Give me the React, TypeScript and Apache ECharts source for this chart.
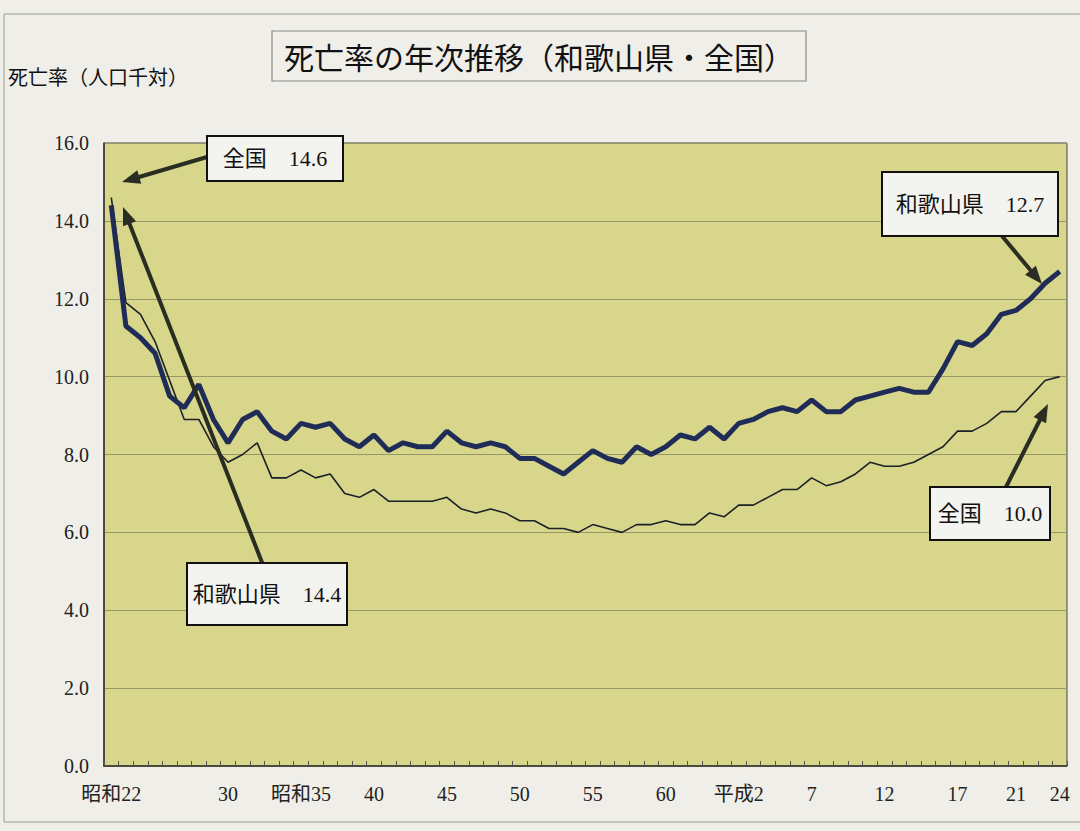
import React, { useEffect, useRef } from "react";
import * as echarts from "echarts";

// 1947 (昭和22) .. 2012 (平成24)
const startYear = 1947;
const endYear = 2012;

const wakayama: number[] = [
  14.4, 11.3, 11.0, 10.6, 9.5, 9.2, 9.8, 8.9, 8.3, 8.9, // 1947-1956
  9.1, 8.6, 8.4, 8.8, 8.7, 8.8, 8.4, 8.2, 8.5, 8.1, // 1957-1966
  8.3, 8.2, 8.2, 8.6, 8.3, 8.2, 8.3, 8.2, 7.9, 7.9, // 1967-1976
  7.7, 7.5, 7.8, 8.1, 7.9, 7.8, 8.2, 8.0, 8.2, 8.5, // 1977-1986
  8.4, 8.7, 8.4, 8.8, 8.9, 9.1, 9.2, 9.1, 9.4, 9.1, // 1987-1996
  9.1, 9.4, 9.5, 9.6, 9.7, 9.6, 9.6, 10.2, 10.9, 10.8, // 1997-2006
  11.1, 11.6, 11.7, 12.0, 12.4, 12.7, // 2007-2012
];

const zenkoku: number[] = [
  14.6, 11.9, 11.6, 10.9, 9.9, 8.9, 8.9, 8.2, 7.8, 8.0, // 1947-1956
  8.3, 7.4, 7.4, 7.6, 7.4, 7.5, 7.0, 6.9, 7.1, 6.8, // 1957-1966
  6.8, 6.8, 6.8, 6.9, 6.6, 6.5, 6.6, 6.5, 6.3, 6.3, // 1967-1976
  6.1, 6.1, 6.0, 6.2, 6.1, 6.0, 6.2, 6.2, 6.3, 6.2, // 1977-1986
  6.2, 6.5, 6.4, 6.7, 6.7, 6.9, 7.1, 7.1, 7.4, 7.2, // 1987-1996
  7.3, 7.5, 7.8, 7.7, 7.7, 7.8, 8.0, 8.2, 8.6, 8.6, // 1997-2006
  8.8, 9.1, 9.1, 9.5, 9.9, 10.0, // 2007-2012
];

const categories: string[] = [];
for (let y = startYear; y <= endYear; y++) {
  if (y <= 1988) categories.push("昭和" + (y - 1925));
  else if (y === 1989) categories.push("平成元");
  else categories.push("平成" + (y - 1988));
}

const tickLabelKeys = ["昭和22", "昭和30", "昭和35", "昭和40", "昭和45", "昭和50", "昭和55", "昭和60", "平成2", "平成7", "平成12", "平成17", "平成21", "平成24"];
const tickLabelTexts = ["昭和22", "30", "昭和35", "40", "45", "50", "55", "60", "平成2", "7", "12", "17", "21", "24"];

const FONT = "'Liberation Serif', 'Noto Sans CJK JP', serif";
const CJK = "'Noto Sans CJK JP', sans-serif";

function arrow(x1: number, y1: number, x2: number, y2: number) {
  const dx = x2 - x1;
  const dy = y2 - y1;
  const len = Math.sqrt(dx * dx + dy * dy);
  const ux = dx / len;
  const uy = dy / len;
  const headL = 18;
  const headW = 7;
  const bx = x2 - ux * headL;
  const by = y2 - uy * headL;
  return [
    {
      type: "line",
      shape: { x1, y1, x2: bx + ux * 2, y2: by + uy * 2 },
      style: { stroke: "#2a2d22", lineWidth: 4 },
      z: 20,
    },
    {
      type: "polygon",
      shape: {
        points: [
          [x2, y2],
          [bx - uy * headW, by + ux * headW],
          [bx + uy * headW, by - ux * headW],
        ],
      },
      style: { fill: "#2a2d22" },
      z: 20,
    },
  ];
}

function box(x: number, y: number, w: number, h: number, text: string) {
  return [
    {
      type: "rect",
      shape: { x, y, width: w, height: h },
      style: { fill: "#f3f3ef", stroke: "#111", lineWidth: 2 },
      z: 21,
    },
    {
      type: "text",
      x: x + w / 2,
      y: y + h / 2,
      style: {
        text,
        fill: "#111",
        font: "22px " + FONT,
        align: "center",
        verticalAlign: "middle",
      },
      z: 22,
    },
  ];
}

export default function App() {
  const ref = useRef<HTMLDivElement>(null);

  useEffect(() => {
    document.body.style.margin = "0";
    if (!ref.current) return;
    const chart = echarts.init(ref.current, undefined, { renderer: "svg" });
    const option: any = {
      animation: false,
      backgroundColor: "#efeee8",
      grid: {
        left: 104,
        right: 13,
        top: 143,
        bottom: 65,
        show: true,
        backgroundColor: "#d7d68b",
        borderColor: "#444",
        borderWidth: 1,
      },
      xAxis: {
        type: "category",
        data: categories,
        boundaryGap: true,
        axisLine: { show: true, lineStyle: { color: "#333", width: 1.5 } },
        axisTick: { show: true, interval: 0, inside: true, length: 5, lineStyle: { color: "#555" } },
        axisLabel: {
          interval: (_i: number, v: string) => tickLabelKeys.includes(v),
          formatter: (v: string) => {
            const k = tickLabelKeys.indexOf(v);
            return k >= 0 ? tickLabelTexts[k] : "";
          },
          fontSize: 20,
          fontFamily: FONT,
          color: "#222",
          margin: 18,
        },
        splitLine: { show: false },
      },
      yAxis: {
        type: "value",
        min: 0,
        max: 16,
        interval: 2,
        axisLine: { show: true, lineStyle: { color: "#333", width: 1.5 } },
        axisTick: { show: false },
        axisLabel: {
          formatter: (v: number) => v.toFixed(1),
          fontSize: 20,
          fontFamily: FONT,
          color: "#222",
          margin: 15,
        },
        splitLine: { show: true, lineStyle: { color: "#98976a", width: 1 } },
      },
      series: [
        {
          name: "全国",
          type: "line",
          data: zenkoku,
          symbol: "none",
          lineStyle: { color: "#1b2129", width: 1.6 },
          z: 3,
        },
        {
          name: "和歌山県",
          type: "line",
          data: wakayama,
          symbol: "none",
          lineStyle: { color: "#1f2c57", width: 5 },
          z: 4,
        },
      ],
      graphic: [
        { type: "rect", shape: { x: 4, y: 14, width: 1090, height: 808 }, style: { fill: "none", stroke: "#9a9a94", lineWidth: 1 }, z: 0 },
        { type: "rect", shape: { x: 272, y: 31, width: 534, height: 50 }, style: { fill: "none", stroke: "#8a8a86", lineWidth: 1.2 }, z: 10 },
        {
          type: "text",
          x: 539,
          y: 56,
          style: { text: "死亡率の年次推移（和歌山県・全国）", fill: "#111", font: "30px " + CJK, align: "center", verticalAlign: "middle" },
          z: 11,
        },
        {
          type: "text",
          x: 8,
          y: 76,
          style: { text: "死亡率（人口千対）", fill: "#111", font: "20px " + CJK, align: "left", verticalAlign: "middle" },
          z: 11,
        },
        ...arrow(207, 157, 122, 182),
        ...box(207, 136, 136, 45, "全国　14.6"),
        ...arrow(263, 565, 123, 207),
        ...box(187, 563, 160, 62, "和歌山県　14.4"),
        ...arrow(1002, 236, 1042, 284),
        ...box(882, 172, 176, 64, "和歌山県　12.7"),
        ...arrow(1006, 487, 1048, 404),
        ...box(930, 487, 120, 53, "全国　10.0"),
      ],
    };
    chart.setOption(option);
    return () => chart.dispose();
  }, []);

  return <div ref={ref} style={{ width: 1080, height: 831 }} />;
}
